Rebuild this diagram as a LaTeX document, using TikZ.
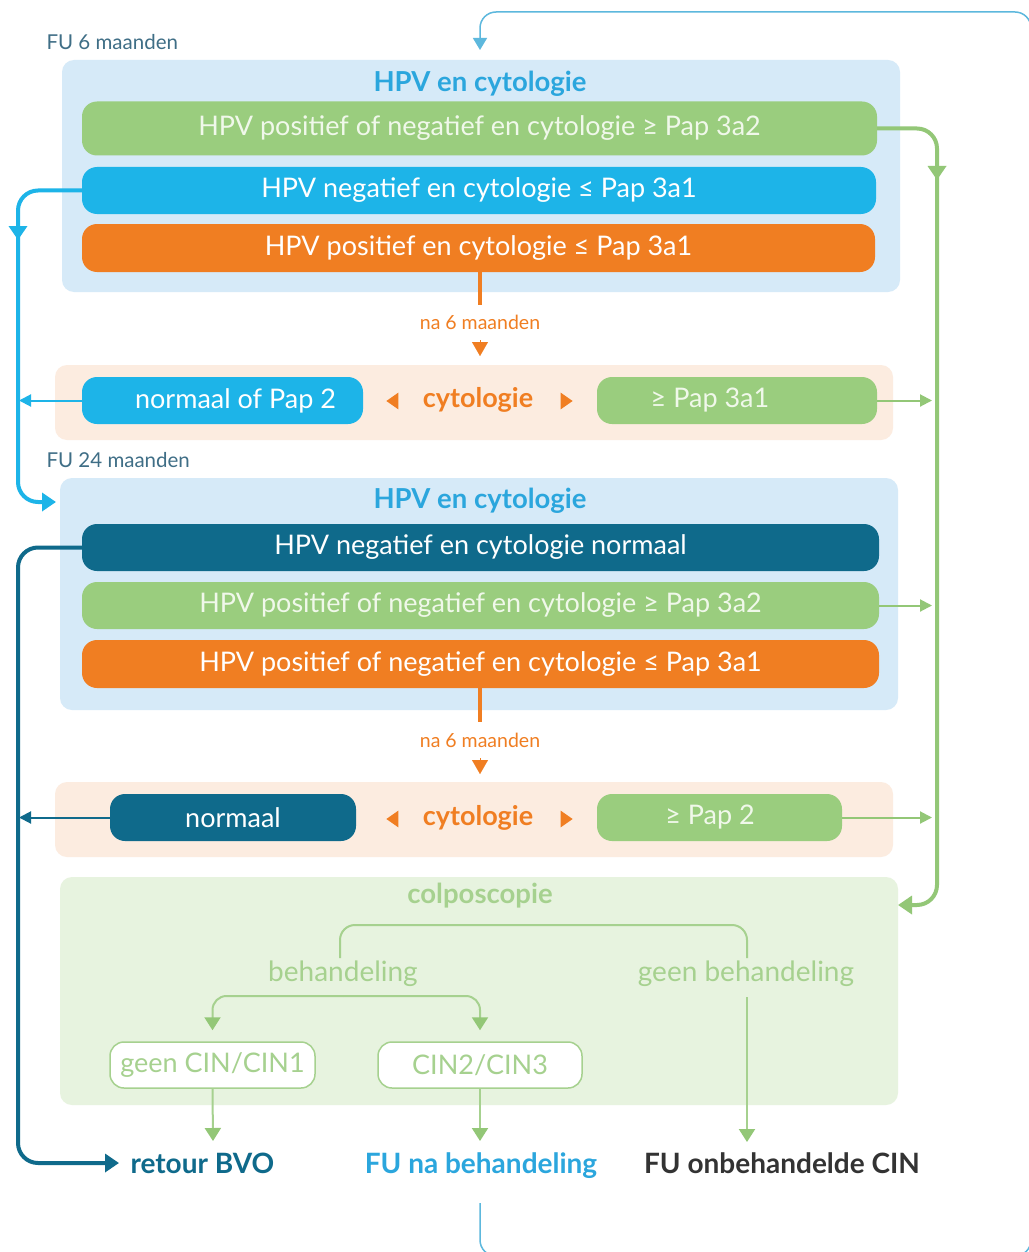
\documentclass[tikz,border=0pt]{standalone}
\usepackage{fontspec}
\setmainfont{Lato}
\usetikzlibrary{arrows.meta,shapes.geometric}
\definecolor{lblue}{HTML}{D6EAF8}
\definecolor{tblue}{HTML}{2BA6DD}
\definecolor{gbar}{HTML}{9ACD7E}
\definecolor{gtext}{HTML}{F0F8EA}
\definecolor{bbar}{HTML}{1DB4E8}
\definecolor{obar}{HTML}{F07E22}
\definecolor{peach}{HTML}{FCECE0}
\definecolor{teal}{HTML}{0F6A8B}
\definecolor{cbg}{HTML}{E7F3DF}
\definecolor{cgreen}{HTML}{A6D18F}
\definecolor{cgreend}{HTML}{93C777}
\definecolor{fulab}{HTML}{3F6E86}
\definecolor{dgrey}{HTML}{333333}
\definecolor{loopc}{HTML}{5DB8DD}
\begin{document}
\begin{tikzpicture}[x=1pt,y=-1pt,
  panel/.style={rounded corners=12pt, inner sep=0pt},
  bar/.style={rounded corners=15pt, inner sep=0pt, text=gtext, font=\fontsize{27}{30}\selectfont},
  boxtitle/.style={text=tblue, font=\bfseries\fontsize{27.5}{30}\selectfont},
  fulabel/.style={text=fulab, anchor=west, font=\fontsize{20.5}{24}\selectfont},
  nalabel/.style={text=obar, font=\fontsize{19.5}{23}\selectfont},
  cytlabel/.style={text=obar, font=\bfseries\fontsize{27}{30}\selectfont},
  otri/.style={isosceles triangle, fill=obar, inner sep=0pt, minimum height=12pt, minimum width=15pt, isosceles triangle apex angle=70},
  thickarrow/.style={line width=4pt, rounded corners=20pt, -{Triangle[length=14pt,width=18pt]}},
  thinarrow/.style={line width=2pt, -{Triangle[length=12pt,width=12pt]}},
  ctext/.style={text=cgreen, font=\fontsize{28}{31}\selectfont},
  cbox/.style={draw=cgreen, line width=1.5pt, fill=white, rounded corners=14pt, inner sep=0pt, minimum height=46pt, text=cgreen, font=\fontsize{27}{30}\selectfont},
  carrow/.style={draw=cgreen, line width=2pt, -{Triangle[length=13pt,width=16pt,color=cgreend]}},
  endlabel/.style={font=\bfseries\fontsize{28}{31}\selectfont}
]
\useasboundingbox (0,0) rectangle (1028,1252);
\fill[white] (0,0) rectangle (1028,1252);

% ---------- block 1 ----------
\node[fulabel] (fu6) at (43,42) {FU 6 maanden};
\node[panel, fill=lblue, minimum width=838pt, minimum height=232pt] (box1) at (481,176) {};
\node[boxtitle] (t1) at (480,84) {HPV en cytologie};
\node[bar, fill=gbar, minimum width=795pt, minimum height=54pt] (g1) at (479.5,128.5) {HPV positief of negatief en cytologie ≥ Pap 3a2};
\node[bar, fill=bbar, text=white, minimum width=794pt, minimum height=47pt] (b1) at (479,190.5) {HPV negatief en cytologie ≤ Pap 3a1};
\node[bar, fill=obar, text=white, minimum width=793pt, minimum height=48pt] (o1) at (478.5,248) {HPV positief en cytologie ≤ Pap 3a1};

\node[nalabel] (na1) at (480,322) {na 6 maanden};
\coordinate (na1top) at (480,305);
\coordinate (na1a) at (480,340);
\coordinate (na1b) at (480,356);
\draw[obar, line width=4pt] (o1.south -| na1top) -- (na1top);
\draw[obar, line width=0.1pt, -{Triangle[length=14pt,width=16pt]}] (na1a) -- (na1b);

% ---------- cytologie 1 ----------
\node[panel, fill=peach, minimum width=838pt, minimum height=75pt] (pe1) at (474,402.5) {};
\node[bar, fill=bbar, text=white, minimum width=281pt, minimum height=47pt] (np2) at (222.5,400.5) {\hspace*{26pt}normaal of Pap 2};
\node[cytlabel] (cy1) at (478,400) {cytologie};
\node[otri, shape border rotate=180] (cy1l) at (394,401) {};
\node[otri] (cy1r) at (565,401) {};
\node[bar, fill=gbar, minimum width=280pt, minimum height=47pt] (pa1) at (737,400.5) {≥ Pap 3a1\hspace*{54pt}};
\coordinate (pa1end) at (932,400.5);
\coordinate (np2end) at (19,400.5);
\draw[cgreend, thinarrow] (pa1.east) -- (pa1end);
\draw[bbar, thinarrow] (np2.west) -- (np2end);

% ---------- block 2 ----------
\node[fulabel] (fu24) at (43,460) {FU 24 maanden};
\node[panel, fill=lblue, minimum width=838pt, minimum height=232pt] (box2) at (479,594) {};
\node[boxtitle] (t2) at (480,501) {HPV en cytologie};
\node[bar, fill=teal, text=white, minimum width=797pt, minimum height=47pt] (d2) at (480.5,547.5) {HPV negatief en cytologie normaal};
\node[bar, fill=gbar, minimum width=797pt, minimum height=47pt] (g2) at (480.5,605.5) {HPV positief of negatief en cytologie ≥ Pap 3a2};
\node[bar, fill=obar, text=white, minimum width=797pt, minimum height=48pt] (o2) at (480.5,664) {HPV positief of negatief en cytologie ≤ Pap 3a1};
\coordinate (g2end) at (932,605.5);
\draw[cgreend, thinarrow] (g2.east) -- (g2end);

\node[nalabel] (na2) at (480,740) {na 6 maanden};
\coordinate (na2top) at (480,722);
\coordinate (na2a) at (480,758);
\coordinate (na2b) at (480,774);
\draw[obar, line width=4pt] (o2.south -| na2top) -- (na2top);
\draw[obar, line width=0.1pt, -{Triangle[length=14pt,width=16pt]}] (na2a) -- (na2b);

% ---------- cytologie 2 ----------
\node[panel, fill=peach, minimum width=838pt, minimum height=75pt] (pe2) at (474,819.5) {};
\node[bar, fill=teal, text=white, minimum width=246pt, minimum height=47pt] (nm) at (233,817.5) {normaal};
\node[cytlabel] (cy2) at (478,818) {cytologie};
\node[otri, shape border rotate=180] (cy2l) at (394,819) {};
\node[otri] (cy2r) at (565,819) {};
\node[bar, fill=gbar, minimum width=245pt, minimum height=47pt] (pa2) at (719.5,817.5) {≥ Pap 2\hspace*{19pt}};
\coordinate (pa2end) at (932,817.5);
\coordinate (nmend) at (19,817.5);
\draw[cgreend, thinarrow] (pa2.east) -- (pa2end);
\draw[teal, thinarrow] (nm.west) -- (nmend);

% ---------- colposcopie ----------
\node[panel, fill=cbg, minimum width=838pt, minimum height=228pt] (colpo) at (479,991) {};
\node[text=cgreen, font=\bfseries\fontsize{27.5}{30}\selectfont] (ct) at (480,896) {colposcopie};
\node[ctext] (beh) at (343,974) {behandeling};
\node[ctext] (gbeh) at (746,974) {geen behandeling};
\coordinate (behtop) at (340,958);
\coordinate (gbehtop) at (747,958);
\coordinate (btop) at (540,925);
\draw[cgreen, line width=2pt, rounded corners=15pt] (behtop) |- (btop) -| (gbehtop);
\node[cbox, minimum width=205pt] (cin1) at (212.5,1065) {geen CIN/CIN1};
\node[cbox, minimum width=204pt] (cin23) at (480,1065) {CIN2/CIN3};
\coordinate (fork) at (343,996);
\draw[carrow, rounded corners=14pt, shorten >=11pt] (fork) -| (cin1.north);
\draw[carrow, rounded corners=14pt, shorten >=11pt] (fork) -| (cin23.north);

% ---------- end labels ----------
\node[endlabel, text=teal, anchor=base west] (bvo) at (127,1173) {retour BVO};
\node[endlabel, text=tblue, anchor=base] (fub) at (481,1173) {FU na behandeling};
\node[endlabel, text=dgrey, anchor=base] (fuo) at (782,1173) {FU onbehandelde CIN};
\coordinate (cin1end) at (213,1141);
\coordinate (cin23end) at (480,1141);
\coordinate (gbehbot) at (747,997);
\coordinate (gbehend) at (747,1142);
\draw[carrow] (cin1.south) -- (cin1end);
\draw[carrow] (cin23.south) -- (cin23end);
\draw[carrow] (gbehbot) -- (gbehend);

% ---------- main connectors ----------
\coordinate (bmid1) at (18,240);
\coordinate (bmid2) at (18,228);
\coordinate (b2in) at (56,502);
\draw[bbar, line width=4pt, rounded corners=20pt, -{Triangle[length=14pt,width=18pt]}] (b1.west) -| (bmid1);
\draw[bbar, thickarrow] (bmid2) |- (b2in);
\coordinate (bvoin) at (119,1163);
\draw[teal, thickarrow] (d2.west) -| (18,1000) |- (bvoin);
\coordinate (gmid1) at (937,180);
\coordinate (gmid2) at (937,168);
\coordinate (colin) at (898,905);
\draw[cgreend, line width=4pt, rounded corners=20pt, -{Triangle[length=14pt,width=18pt]}] (g1.east) -| (gmid1);
\draw[cgreend, thickarrow] (gmid2) |- (colin);
\coordinate (loopstart) at (480,1203);
\coordinate (loopend) at (480,50);
\draw[loopc, line width=1.5pt, rounded corners=16pt, -{Triangle[length=12pt,width=14pt]}]
  (loopstart) -- (480,1256) -- (1031,1256) -- (1031,12) -- (480,12) -- (loopend);
\end{tikzpicture}
\end{document}
